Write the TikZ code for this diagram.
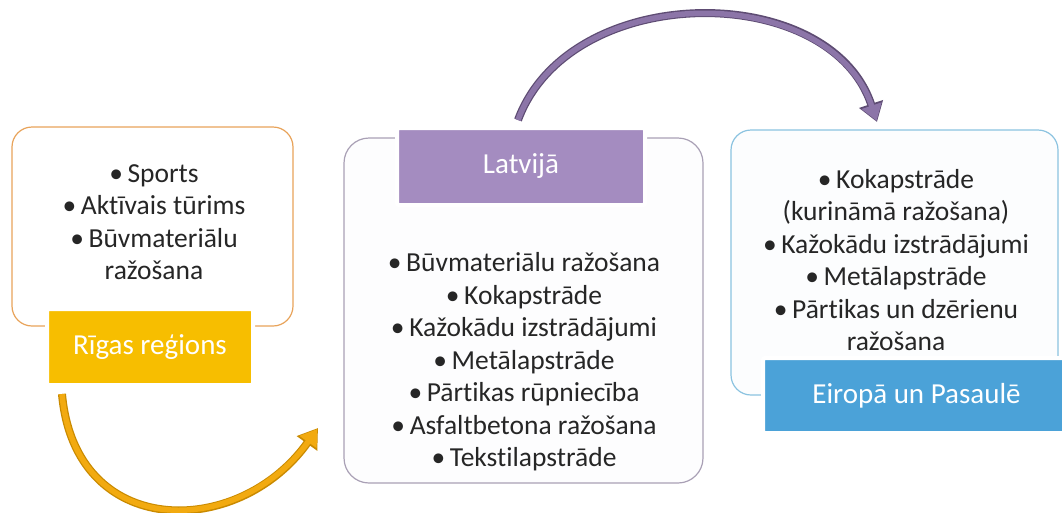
\documentclass[tikz,border=0pt]{standalone}
\usepackage{fontspec}
\setmainfont{Carlito}[Ligatures=NoCommon]
\usetikzlibrary{arrows.meta}

\definecolor{rigline}{HTML}{E8A35A}
\definecolor{rigfill}{HTML}{F7BE00}
\definecolor{latline}{HTML}{A9A0B5}
\definecolor{latfill}{HTML}{A48CC0}
\definecolor{eirline}{HTML}{8BC3E0}
\definecolor{eirfill}{HTML}{4BA2D8}
\definecolor{txtgray}{HTML}{262626}
\definecolor{arrorange}{HTML}{F2AA10}
\definecolor{arrorangedk}{HTML}{C98A00}
\definecolor{arrpurple}{HTML}{8C75A8}
\definecolor{arrpurpledk}{HTML}{5E4C73}

\begin{document}
\begin{tikzpicture}[x=1pt, y=-1pt,
    listbox/.style={draw, line width=1.2pt, rounded corners=20pt},
    labelbox/.style={draw=white, line width=4pt, rounded corners=2pt,
        text=white, font=\fontsize{29}{32}\selectfont},
    itemtext/.style={align=center, text=txtgray,
        font=\fontsize{27.5}{32.5}\selectfont}]
    \useasboundingbox (0,0) rectangle (1062,512);
    \clip (0,0) rectangle (1062,512);

    % Left: Riga region
    \node[listbox, draw=rigline, fill=white, minimum width=281pt, minimum height=199pt] (rigbox) at (152.5,226.5) {};
    \node[itemtext] (rigtxt) at (154,222) {\textbullet\,Sports\\ \textbullet\,Aktīvais tūrims\\ \textbullet\,Būvmateriālu\\ ražošana};
    \node[labelbox, fill=rigfill, minimum width=206pt, minimum height=76pt] (riglbl) at (150,347) {Rīgas reģions};

    % Middle: Latvia
    \node[listbox, draw=latline, fill=latline!2, rounded corners=25pt, minimum width=359pt, minimum height=345pt] (latbox) at (523.5,310.5) {};
    \node[labelbox, fill=latfill, minimum width=248pt, minimum height=77pt] (latlbl) at (521,166.5) {Latvijā};
    \node[itemtext] (lattxt) at (524,362) {\textbullet\,Būvmateriālu ražošana\\ \textbullet\,Kokapstrāde\\ \textbullet\,Kažokādu izstrādājumi\\ \textbullet\,Metālapstrāde\\ \textbullet\,Pārtikas rūpniecība\\ \textbullet\,Asfaltbetona ražošana\\ \textbullet\,Tekstilapstrāde};

    % Right: Europe and world
    \node[listbox, draw=eirline, fill=eirline!3, minimum width=327pt, minimum height=265pt] (eirbox) at (894.5,262.5) {};
    \node[itemtext] (eirtxt) at (896,260) {\textbullet\,Kokapstrāde\\ (kurināmā ražošana)\\ \textbullet\,Kažokādu izstrādājumi\\ \textbullet\,Metālapstrāde\\ \textbullet\,Pārtikas un dzērienu\\ ražošana};
    \node[labelbox, fill=eirfill, minimum width=307pt, minimum height=75pt] (eirlbl) at (916.5,395.5) {Eiropā un Pasaulē};

    % Arrow ends
    \coordinate (orstart) at (62,394);
    \coordinate (orend) at (318,428);
    \coordinate (pustart) at (518,120);
    \coordinate (puend) at (877,122);

    % Orange arrow
    \draw[line width=8pt, arrorangedk, -{Triangle[length=19pt,width=24pt]}] (orstart) .. controls (75,540) and (238,540) .. (orend);
    \draw[line width=5.5pt, arrorange, shorten >=1.2pt, -{Triangle[length=16pt,width=20pt]}] (orstart) .. controls (75,540) and (238,540) .. (orend);

    % Purple arrow
    \draw[line width=8pt, arrpurpledk, -{Triangle[length=19pt,width=24pt]}] (pustart) .. controls (570,-20) and (830,-20) .. (puend);
    \draw[line width=5.5pt, arrpurple, shorten >=1.2pt, -{Triangle[length=16pt,width=20pt]}] (pustart) .. controls (570,-20) and (830,-20) .. (puend);
\end{tikzpicture}
\end{document}
